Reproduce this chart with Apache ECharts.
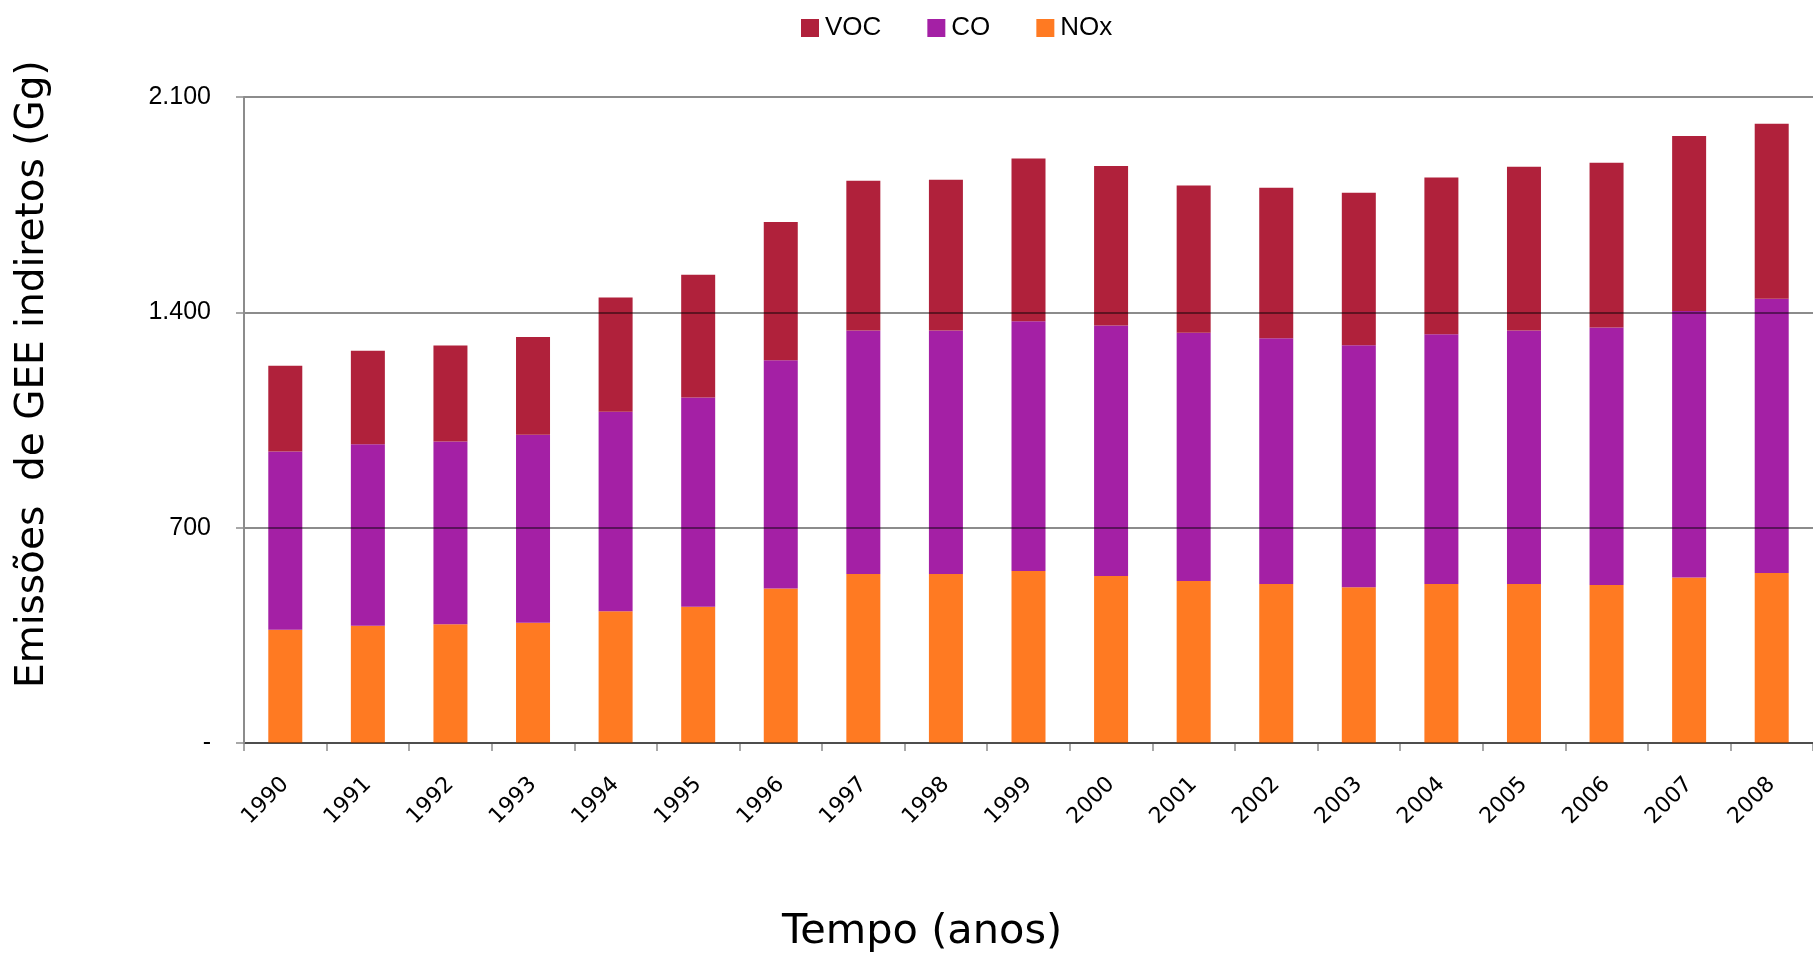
<!DOCTYPE html>
<html>
<head>
<meta charset="utf-8">
<script src="https://cdn.jsdelivr.net/npm/echarts@6/dist/echarts.min.js"></script>
<style>
  html, body { margin: 0; padding: 0; background: #fff; }
  #main { width: 1813px; height: 956px; }
</style>
</head>
<body>
<div id="main"></div>
<script>
var years = ['1990', '1991', '1992', '1993', '1994', '1995', '1996', '1997', '1998', '1999',
             '2000', '2001', '2002', '2003', '2004', '2005', '2006', '2007', '2008'];
var nox = [368, 381, 386, 391, 428, 443, 502, 549, 549, 559, 543, 527, 517, 506, 517, 517, 514, 538, 553];
var co  = [580, 590, 594, 611, 649, 680, 742, 792, 792, 812, 814, 807, 799, 787, 812, 824, 837, 866, 891];
var voc = [278, 304, 312, 318, 371, 399, 450, 487, 490, 529, 519, 478, 489, 496, 509, 532, 535, 569, 569];
var yTicks = { 0: '-', 700: '700', 1400: '1.400', 2100: '2.100' };

var myChart = echarts.init(document.getElementById('main'));
var option = {
    animation: false,
    color: ['#B0213B', '#A420A5', '#FF7A22'],
    legend: {
        top: 10,
        left: 796,
        itemWidth: 18,
        itemHeight: 18,
        itemGap: 46,
        icon: 'rect',
        textStyle: { fontSize: 26, color: '#000', fontFamily: '"Liberation Sans", sans-serif', padding: [0, 0, 0, 1] },
        data: ['VOC', 'CO', 'NOx']
    },
    grid: {
        left: 244,
        right: -8,
        top: 97,
        bottom: 213
    },
    xAxis: {
        type: 'category',
        data: years,
        axisLine: { lineStyle: { color: '#8c8c8c', width: 2 } },
        axisTick: { show: true, length: 8, lineStyle: { color: '#8c8c8c', width: 1.5 } },
        axisLabel: {
            rotate: 45,
            margin: 38,
            fontSize: 22,
            color: '#000',
            fontFamily: '"DejaVu Sans", sans-serif'
        }
    },
    yAxis: {
        type: 'value',
        min: 0,
        max: 2100,
        interval: 700,
        z: 5,
        axisLine: { show: true, lineStyle: { color: '#8c8c8c', width: 2 } },
        axisTick: { show: true, inside: false, length: 8, lineStyle: { color: '#8c8c8c', width: 1.5 } },
        splitLine: { lineStyle: { color: 'rgba(0,0,0,0.45)', width: 2 } },
        axisLabel: {
            margin: 33,
            fontSize: 25,
            color: '#000',
            fontFamily: '"Liberation Sans", sans-serif',
            formatter: function (v) { return yTicks[v] !== undefined ? yTicks[v] : ''; }
        }
    },
    graphic: [
        {
            type: 'text',
            x: 33,
            y: 688,
            rotation: Math.PI / 2,
            style: {
                text: 'Emissões  de GEE indiretos (Gg)',
                fontSize: 39,
                fontFamily: '"DejaVu Sans", sans-serif',
                fill: '#000',
                align: 'left',
                verticalAlign: 'middle'
            }
        },
        {
            type: 'text',
            x: 782,
            y: 932,
            style: {
                text: 'Tempo (anos)',
                fontSize: 41.5,
                fontFamily: '"DejaVu Sans", sans-serif',
                fill: '#000',
                align: 'left',
                verticalAlign: 'middle'
            }
        }
    ],
    series: [
        { name: 'NOx', type: 'bar', stack: 'total', barWidth: 34, data: nox, itemStyle: { color: '#FF7A22' } },
        { name: 'CO', type: 'bar', stack: 'total', barWidth: 34, data: co, itemStyle: { color: '#A420A5' } },
        { name: 'VOC', type: 'bar', stack: 'total', barWidth: 34, data: voc, itemStyle: { color: '#B0213B' } }
    ]
};
myChart.setOption(option);
</script>
</body>
</html>
